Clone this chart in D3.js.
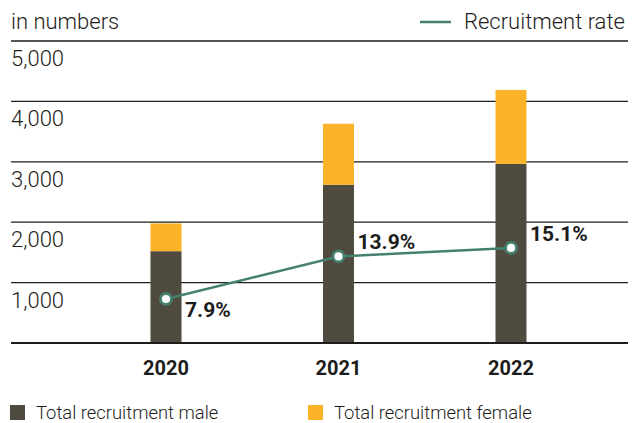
<!DOCTYPE html>
<html>
<head>
<meta charset="utf-8">
<script src="https://cdn.jsdelivr.net/npm/d3@7"></script>
<style>
  html, body { margin: 0; padding: 0; background: #fff; }
  svg { display: block; font-family: Roboto, "Liberation Sans", sans-serif; }
</style>
</head>
<body>
<svg id="chart" width="639" height="423"></svg>
<script>
// ---- data ----
const years = ["2020", "2021", "2022"];
const male = [1520, 2620, 2965];
const female = [460, 1010, 1225];
const recruitmentRate = [7.9, 13.9, 15.1];
const yTicks = [1000, 2000, 3000, 4000, 5000];
const unitLabel = "in numbers";
const seriesNames = ["Total recruitment male", "Total recruitment female"];
const lineName = "Recruitment rate";

// ---- style ----
const colMale = "#4f4b3f";
const colFemale = "#fbb42a";
const colLine = "#45806f";
const colText = "#1d1d1b";

const svg = d3.select("#chart");
const left = 11, right = 628;

const y = d3.scaleLinear().domain([0, 5000]).range([343, 41]);
const x = d3.scalePoint().domain(years).range([166, 511]);
const yRate = d3.scaleLinear().domain([0, 44]).range([355, 43]);
const barW = 31;

// gridlines
svg.append("g").selectAll("line").data(yTicks).join("line")
  .attr("x1", left).attr("x2", right)
  .attr("y1", d => y(d)).attr("y2", d => y(d))
  .attr("stroke", "#1d1d1b").attr("stroke-width", 1.3);

// tick labels (under each gridline)
svg.append("g").selectAll("text").data(yTicks).join("text")
  .attr("x", left).attr("y", d => y(d) + 25)
  .attr("font-size", 22).attr("font-weight", 300).attr("fill", colText)
  .text(d => d3.format(",")(d));

svg.append("text").attr("x", left).attr("y", 29)
  .attr("font-size", 22).attr("font-weight", 300).attr("fill", colText)
  .text(unitLabel);

// stacked bars
const stackData = years.map((yr, i) => ({ year: yr, male: male[i], female: female[i] }));
const stack = d3.stack().keys(["male", "female"])(stackData);
const colors = { male: colMale, female: colFemale };
svg.append("g").selectAll("g").data(stack).join("g")
  .attr("fill", s => colors[s.key])
  .selectAll("rect").data(s => s).join("rect")
  .attr("x", d => x(d.data.year) - barW / 2)
  .attr("width", barW)
  .attr("y", d => y(d[1]))
  .attr("height", d => y(d[0]) - y(d[1]));

// baseline
svg.append("line").attr("x1", left).attr("x2", right)
  .attr("y1", y(0)).attr("y2", y(0))
  .attr("stroke", "#1d1d1b").attr("stroke-width", 2.2);

// x axis labels
svg.append("g").selectAll("text").data(years).join("text")
  .attr("x", d => x(d)).attr("y", 375)
  .attr("text-anchor", "middle")
  .attr("font-size", 20).attr("font-weight", 700).attr("fill", colText)
  .text(d => d);

// line
const line = d3.line().x((d, i) => x(years[i])).y(d => yRate(d));
svg.append("path").datum(recruitmentRate)
  .attr("d", line).attr("fill", "none")
  .attr("stroke", colLine).attr("stroke-width", 2.5);

svg.append("g").selectAll("circle").data(recruitmentRate).join("circle")
  .attr("cx", (d, i) => x(years[i])).attr("cy", d => yRate(d))
  .attr("r", 5.5).attr("fill", "#fff")
  .attr("stroke", colLine).attr("stroke-width", 2.8);

svg.append("g").selectAll("text").data(recruitmentRate).join("text")
  .attr("x", (d, i) => x(years[i]) + 19)
  .attr("y", (d, i) => yRate(d) + (i === 0 ? 18 : -7))
  .attr("font-size", 21).attr("font-weight", 700).attr("fill", colText)
  .text(d => d3.format(".1f")(d) + "%");

// top-right legend
svg.append("line").attr("x1", 420).attr("x2", 451).attr("y1", 22).attr("y2", 22)
  .attr("stroke", colLine).attr("stroke-width", 2.5);
svg.append("text").attr("x", 464).attr("y", 29)
  .attr("font-size", 22).attr("font-weight", 300).attr("fill", colText)
  .text(lineName);

// bottom legend
const legX = [10, 308];
const legCols = [colMale, colFemale];
const leg = svg.append("g").selectAll("g").data(seriesNames).join("g")
  .attr("transform", (d, i) => `translate(${legX[i]},405)`);
leg.append("rect").attr("width", 15).attr("height", 15).attr("fill", (d, i) => legCols[i]);
leg.append("text").attr("x", 26).attr("y", 14)
  .attr("font-size", 18.4).attr("font-weight", 300).attr("fill", colText)
  .text(d => d);
</script>
</body>
</html>
